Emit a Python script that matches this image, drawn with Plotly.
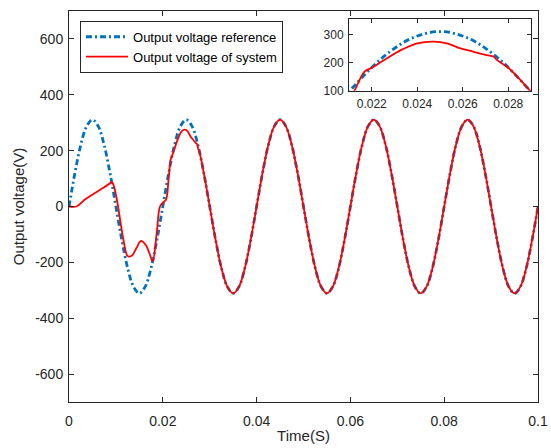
import plotly.graph_objects as go

# Reference output voltage (sampled every 1.25 ms)
ref_t = [0.0, 0.00125, 0.0025, 0.00375, 0.005, 0.00625, 0.0075, 0.00875, 0.01, 0.01125,
         0.0125, 0.01375, 0.015, 0.01625, 0.0175, 0.01875, 0.02, 0.02125, 0.0225, 0.02375,
         0.025, 0.02625, 0.0275, 0.02875, 0.03, 0.03125, 0.0325, 0.03375, 0.035, 0.03625,
         0.0375, 0.03875, 0.04, 0.04125, 0.0425, 0.04375, 0.045, 0.04625, 0.0475, 0.04875,
         0.05, 0.05125, 0.0525, 0.05375, 0.055, 0.05625, 0.0575, 0.05875, 0.06, 0.06125,
         0.0625, 0.06375, 0.065, 0.06625, 0.0675, 0.06875, 0.07, 0.07125, 0.0725, 0.07375,
         0.075, 0.07625, 0.0775, 0.07875, 0.08, 0.08125, 0.0825, 0.08375, 0.085, 0.08625,
         0.0875, 0.08875, 0.09, 0.09125, 0.0925, 0.09375, 0.095, 0.09625, 0.0975, 0.09875, 0.1]
ref_v = [0, 119, 220, 287, 311, 287, 220, 119, 0, -119, -220, -287, -311, -287, -220, -119,
         0, 119, 220, 287, 311, 287, 220, 119, 0, -119, -220, -287, -311, -287, -220, -119,
         0, 119, 220, 287, 311, 287, 220, 119, 0, -119, -220, -287, -311, -287, -220, -119,
         0, 119, 220, 287, 311, 287, 220, 119, 0, -119, -220, -287, -311, -287, -220, -119,
         0, 119, 220, 287, 311, 287, 220, 119, 0, -119, -220, -287, -311, -287, -220, -119, 0]

# System output voltage: start-up transient, then it tracks the reference
sys_t_transient = [0.0, 0.0016, 0.0034, 0.0052, 0.0073, 0.0088, 0.0091, 0.00945, 0.0102,
                   0.0109, 0.0116, 0.0123, 0.01265, 0.0134, 0.0144, 0.01535, 0.0164, 0.0172,
                   0.01784, 0.0187, 0.0194, 0.0201, 0.0207, 0.02124, 0.02168, 0.0220,
                   0.02255, 0.02328, 0.0240, 0.02473, 0.0253, 0.0259, 0.02648, 0.02706,
                   0.02735, 0.0275, 0.0280]
sys_v_transient = [0, 0, 25, 45, 67, 84, 89, 79, 25,
                   -47, -119, -172, -179, -176, -148, -123, -139, -170,
                   -196, -95, 0, 15, 25, 100, 168, 182,
                   210, 245, 269, 275, 269, 251, 239, 227,
                   222, 210, 182]
sys_t = sys_t_transient + ref_t[23:]
sys_v = sys_v_transient + ref_v[23:]

main_x_ticks = [0, 0.02, 0.04, 0.06, 0.08, 0.1]
main_x_labels = ["0", "0.02", "0.04", "0.06", "0.08", "0.1"]
main_y_ticks = [-600, -400, -200, 0, 200, 400, 600]
main_y_labels = ["-600", "-400", "-200", "0", "200", "400", "600"]
inset_x_ticks = [0.022, 0.024, 0.026, 0.028]
inset_x_labels = ["0.022", "0.024", "0.026", "0.028"]
inset_y_ticks = [100, 200, 300]
inset_y_labels = ["100", "200", "300"]

BLUE = "#0072BD"
RED = "#FF0000"
FONT = "Arial, Liberation Sans, sans-serif"
TXT = "#262626"

fig = go.Figure()
for xa, ya, show in (("x", "y", True), ("x2", "y2", False)):
    fig.add_trace(go.Scatter(x=ref_t, y=ref_v, mode="lines", name="Output voltage reference",
                             line=dict(color=BLUE, width=2.8, dash="6px,3px,2px,3px", shape="spline"),
                             xaxis=xa, yaxis=ya, showlegend=show))
    fig.add_trace(go.Scatter(x=sys_t, y=sys_v, mode="lines", name="Output voltage of system",
                             line=dict(color=RED, width=1.8, shape="spline"),
                             xaxis=xa, yaxis=ya, showlegend=show))

def ax(size, ticklen, standoff):
    return dict(showline=True, linecolor=TXT, linewidth=1, mirror="ticks",
                ticks="inside", ticklen=ticklen, tickcolor=TXT, showgrid=False,
                zeroline=False, ticklabelstandoff=standoff, automargin=False,
                tickfont=dict(family=FONT, size=size, color=TXT))

fig.update_layout(
    width=551, height=448,
    margin=dict(l=69, r=13, t=11, b=46),
    paper_bgcolor="white", plot_bgcolor="white",
    font=dict(family=FONT, color=TXT),
    xaxis=dict(range=[0, 0.1], tickvals=main_x_ticks, ticktext=main_x_labels,
               title=dict(text="Time(S)", font=dict(family=FONT, size=15, color=TXT), standoff=2),
               domain=[0, 1], **ax(14, 5, 6)),
    yaxis=dict(range=[-700, 700], tickvals=main_y_ticks, ticktext=main_y_labels,
               title=dict(text="Output voltage(V)", font=dict(family=FONT, size=15, color=TXT), standoff=6),
               domain=[0, 1], **ax(14, 5, 2)),
    xaxis2=dict(anchor="y2", range=[0.021, 0.029], tickvals=inset_x_ticks, ticktext=inset_x_labels,
                domain=[0.597, 0.985], **ax(12, 4, 2)),
    yaxis2=dict(anchor="x2", range=[100, 355], tickvals=inset_y_ticks, ticktext=inset_y_labels,
                domain=[0.796, 0.979], **ax(12, 4, 2)),
    legend=dict(x=0.0235, y=0.975, xanchor="left", yanchor="top",
                bgcolor="white", bordercolor=TXT, borderwidth=1,
                font=dict(family=FONT, size=13, color="black"), tracegroupgap=0,
                itemwidth=42),
)
fig.add_shape(type="rect", xref="paper", yref="paper", x0=0.597, x1=0.985, y0=0.796, y1=0.979,
              fillcolor="white", line=dict(width=0), layer="below")

fig.write_html("out.html")
